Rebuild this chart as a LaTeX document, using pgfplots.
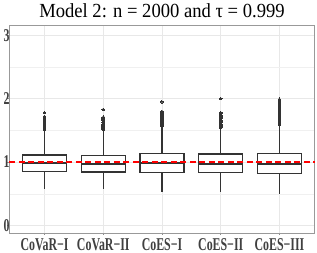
\documentclass[border=0pt]{standalone}
\usepackage{pgfplots}
\pgfplotsset{compat=1.18}
\usepgfplotslibrary{statistics}
\usepackage{fontspec}
\setmainfont{Liberation Serif}
\newfontfamily\titlefont[FakeStretch=0.93]{Liberation Serif}
\newfontfamily\tickfont[FakeStretch=0.66]{Liberation Serif Bold}
\definecolor{boxc}{HTML}{333333}
\begin{document}
\begin{tikzpicture}
\begin{axis}[
  at={(0,0)}, anchor=south west,
  scale only axis, width=305.4pt, height=207.7pt,
  xmin=0.4, xmax=5.6, ymin=-0.12, ymax=3.158,
  xtick={1,2,3,4,5},
  xticklabels={CoVaR−I,CoVaR−II,CoES−I,CoES−II,CoES−III},
  ytick={0,1,2,3}, minor ytick={0.5,1.5,2.5},
  /pgf/number format/assume math mode=true,
  grid=both,
  major grid style={black!9, line width=0.6pt},
  minor grid style={black!6, line width=0.4pt},
  axis line style={black!40, line width=0.8pt},
  tick style={black!45, line width=0.6pt},
  major tick length=2pt, minor tick length=0pt, tick align=outside,
  xtick pos=lower, ytick pos=left,
  tick label style={font=\tickfont\fontsize{18}{20}\selectfont, text=black!75, inner sep=0pt},
  xticklabel style={anchor=base, yshift=-15.5pt},
  yticklabel style={anchor=east, xshift=2.5pt},
  boxplot/draw direction=y,
  boxplot/every median/.style={line width=2.2pt},
  clip=false,
]
\addplot[boxplot prepared={draw position=1, lower whisker=0.569, lower quartile=0.847, median=0.979, upper quartile=1.111, upper whisker=1.50, box extend=0.75, whisker extend=0},
  draw=boxc, fill=white, line width=1.2pt, mark=*, mark size=1.3pt, mark options={fill=boxc, draw=boxc, line width=0pt}]
  table[row sep=\\, y index=0] {1.51\\1.52\\1.53\\1.54\\1.55\\1.56\\1.57\\1.58\\1.59\\1.60\\1.61\\1.62\\1.63\\1.64\\1.66\\1.68\\1.70\\1.72\\1.78\\};
\addplot[boxplot prepared={draw position=2, lower whisker=0.569, lower quartile=0.842, median=0.973, upper quartile=1.106, upper whisker=1.50, box extend=0.75, whisker extend=0},
  draw=boxc, fill=white, line width=1.2pt, mark=*, mark size=1.3pt, mark options={fill=boxc, draw=boxc, line width=0pt}]
  table[row sep=\\, y index=0] {1.51\\1.52\\1.53\\1.54\\1.55\\1.56\\1.57\\1.58\\1.59\\1.60\\1.62\\1.63\\1.65\\1.67\\1.69\\1.71\\1.83\\};
\addplot[boxplot prepared={draw position=3, lower whisker=0.531, lower quartile=0.837, median=0.979, upper quartile=1.137, upper whisker=1.55, box extend=0.75, whisker extend=0},
  draw=boxc, fill=white, line width=1.2pt, mark=*, mark size=1.3pt, mark options={fill=boxc, draw=boxc, line width=0pt}]
  table[row sep=\\, y index=0] {1.56\\1.57\\1.58\\1.59\\1.60\\1.61\\1.62\\1.63\\1.64\\1.65\\1.66\\1.68\\1.70\\1.72\\1.74\\1.76\\1.78\\1.80\\1.95\\};
\addplot[boxplot prepared={draw position=4, lower whisker=0.531, lower quartile=0.837, median=0.973, upper quartile=1.126, upper whisker=1.53, box extend=0.75, whisker extend=0},
  draw=boxc, fill=white, line width=1.2pt, mark=*, mark size=1.3pt, mark options={fill=boxc, draw=boxc, line width=0pt}]
  table[row sep=\\, y index=0] {1.54\\1.55\\1.56\\1.57\\1.58\\1.59\\1.60\\1.62\\1.64\\1.66\\1.68\\1.70\\1.72\\1.74\\1.76\\1.78\\2.00\\};
\addplot[boxplot prepared={draw position=5, lower whisker=0.494, lower quartile=0.821, median=0.968, upper quartile=1.137, upper whisker=1.58, box extend=0.75, whisker extend=0},
  draw=boxc, fill=white, line width=1.2pt, mark=*, mark size=1.3pt, mark options={fill=boxc, draw=boxc, line width=0pt}]
  table[row sep=\\, y index=0] {1.59\\1.60\\1.61\\1.62\\1.63\\1.64\\1.65\\1.66\\1.67\\1.68\\1.69\\1.70\\1.72\\1.74\\1.76\\1.78\\1.80\\1.82\\1.84\\1.86\\1.88\\1.90\\1.92\\1.94\\1.96\\1.98\\1.99\\};
\addplot[red, line width=1.8pt, dash pattern=on 6pt off 3.5pt] coordinates {(0.4,1) (5.6,1)};
\node[font=\titlefont\fontsize{20}{22}\selectfont, anchor=base, inner sep=0pt, yshift=7.3pt] at (axis description cs:0.5,1) {Model 2: n = 2000 and τ = 0.999};
\end{axis}
\pgfresetboundingbox
\path[use as bounding box] (-9.3pt,-20pt) rectangle (307.7pt,233pt);
\end{tikzpicture}
\end{document}
